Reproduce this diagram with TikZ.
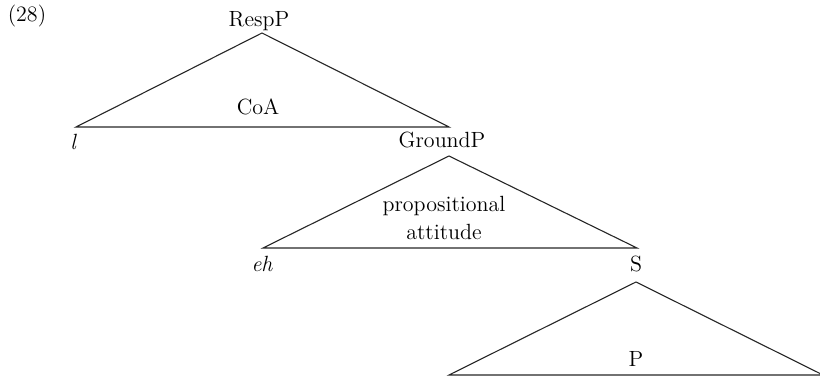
\documentclass[tikz,border=0pt]{standalone}
\usetikzlibrary{calc}

\begin{document}
\begin{tikzpicture}[
  x=0.5pt,y=-0.5pt,
  cat/.style={anchor=base,inner sep=0pt,font=\fontsize{11}{13}\selectfont},
  leaf/.style={cat,font=\fontsize{11}{13}\selectfont\itshape},
  inside/.style={cat,align=center},
  roofline/.style={black!85,line width=0.55pt,line join=miter}
]
\newcommand{\roof}[3]{\draw[roofline] (#1)--(#2)--(#3)--cycle;}
\useasboundingbox (0,0) rectangle (820,378);
\node[cat] (exnum) at (27,22) {(28)};
% ================= top: RespP =================
\node[cat] (respP) at (259,27) {RespP};
\coordinate (respTop) at (262,33);
\coordinate (respL) at (76,127);
\coordinate (respR) at (449,127);
\roof{respTop}{respL}{respR}
\node[cat] (coa) at (258,115) {CoA};
\node[leaf] (ell) at (73,150) {l};
% ================= middle: GroundP =================
\node[cat] (groundP) at (442,148) {GroundP};
\coordinate (grTop) at (449,156);
\coordinate (grL) at (263,248);
\coordinate (grR) at (637,248);
\roof{grTop}{grL}{grR}
\node[cat] (propos) at (444,212) {propositional};
\node[cat] (attit) at (444,240) {attitude};
\node[leaf] (eh) at (262,272) {eh};
% ================= bottom: S =================
\node[cat] (sNode) at (636,272) {S};
\coordinate (sTop) at (636,282);
\coordinate (sL) at (449,375);
\coordinate (sR) at (823,375);
\roof{sTop}{sL}{sR}
\node[cat] (pNode) at (636,367) {P};
\end{tikzpicture}
\end{document}
